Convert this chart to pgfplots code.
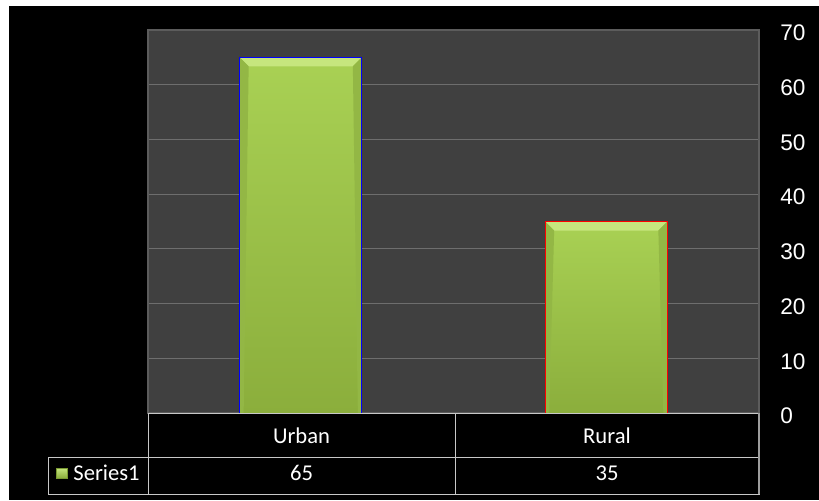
\documentclass[border=0pt]{standalone}
\usepackage{pgfplots}
\pgfplotsset{compat=1.18}
\usepackage{fontspec}
\setmainfont{Carlito}
\newfontfamily\arial{Liberation Sans}
\definecolor{plotbg}{HTML}{404040}
\definecolor{gridc}{HTML}{6E6E6E}
\definecolor{framec}{HTML}{5C5C5C}
\definecolor{tablec}{HTML}{C8C8C8}
\definecolor{barTop}{HTML}{A9D154}
\definecolor{barBot}{HTML}{8BAE3C}
\definecolor{barEdge}{HTML}{7A9A32}
\definecolor{barHi}{HTML}{C6E67E}
\definecolor{barSide}{HTML}{93B745}
\newcommand\bb[1]{\pgfpointanchor{path picture bounding box}{#1}}
\newcommand\bbs[3]{\pgfpointadd{\pgfpointanchor{path picture bounding box}{#1}}{\pgfpoint{#2}{#3}}}
\tikzset{bevel/.style={path picture={%
  \pgfsetfillcolor{barHi}%
  \pgfpathmoveto{\bb{north west}}%
  \pgfpathlineto{\bb{north east}}%
  \pgfpathlineto{\bbs{north east}{-4.5pt}{-4.5pt}}%
  \pgfpathlineto{\bbs{north west}{4.5pt}{-4.5pt}}%
  \pgfpathclose\pgfusepath{fill}%
  \pgfsetfillcolor{barSide}%
  \pgfpathmoveto{\bb{north west}}%
  \pgfpathlineto{\bbs{north west}{4.5pt}{-4.5pt}}%
  \pgfpathlineto{\bbs{south west}{2pt}{0pt}}%
  \pgfpathlineto{\bb{south west}}%
  \pgfpathclose\pgfusepath{fill}%
  \pgfpathmoveto{\bb{north east}}%
  \pgfpathlineto{\bbs{north east}{-4.5pt}{-4.5pt}}%
  \pgfpathlineto{\bbs{south east}{-2pt}{0pt}}%
  \pgfpathlineto{\bb{south east}}%
  \pgfpathclose\pgfusepath{fill}%
}}}
\begin{document}
\begin{tikzpicture}
\useasboundingbox (0pt,0pt) rectangle (409.5pt,250pt);
\fill[white] (0pt,0pt) rectangle (409.5pt,250pt);
\fill[black] (4.5pt,0pt) rectangle (409.5pt,247pt);
\begin{axis}[
  at={(74pt,43.5pt)}, anchor=south west,
  scale only axis, width=305.5pt, height=191.5pt,
  xmin=-0.5, xmax=1.5, ymin=0, ymax=70,
  xtick=\empty,
  ytick={0,10,...,70},
  yticklabel pos=right,
  major tick length=0pt,
  axis background/.style={fill=plotbg},
  axis line style={draw=framec, line width=0.6pt},
  ymajorgrids,
  grid style={draw=gridc, line width=0.5pt},
  yticklabel style={anchor=west, inner sep=0pt, xshift=10.5pt, yshift=-1.5pt,
     font=\arial\fontsize{11.3}{13}\selectfont, text=white},
  /pgf/number format/assume math mode=true,
  ybar, bar width=0.4, bar shift=0pt,
  every axis plot/.append style={ybar, bar shift=0pt, top color=barTop, bottom color=barBot, draw=barEdge, line width=0.4pt, bevel},
]
% Series1: Urban = 65, Rural = 35
\addplot coordinates {(0,65)};
\addplot coordinates {(1,35)};
\end{axis}
% data table below
\fill[black] (74pt,21.5pt) rectangle (379.5pt,43.5pt);
\draw[tablec, line width=0.5pt] (74pt,21.5pt) rectangle (379.5pt,43.3pt);
\draw[tablec, line width=0.5pt] (24pt,3pt) rectangle (379.5pt,21.5pt);
\draw[tablec, line width=0.5pt] (74pt,3pt) -- (74pt,21.5pt);
\draw[tablec, line width=0.5pt] (227.5pt,3pt) -- (227.5pt,43.3pt);
\draw[framec!60!white, line width=0.6pt] (379.5pt,3pt) -- (379.5pt,43.3pt);
\node[anchor=base, text=white, font=\fontsize{11.3}{13}\selectfont, inner sep=0pt] at (150.75pt,28.5pt) {Urban};
\node[anchor=base, text=white, font=\fontsize{11.3}{13}\selectfont, inner sep=0pt] at (303.5pt,28.5pt) {Rural};
\node[anchor=base, text=white, font=\fontsize{11.3}{13}\selectfont, inner sep=0pt] at (150.75pt,10pt) {65};
\node[anchor=base, text=white, font=\fontsize{11.3}{13}\selectfont, inner sep=0pt] at (303.5pt,10pt) {35};
\shade[top color=barHi, bottom color=barBot, draw=barEdge, line width=0.3pt] (28pt,11pt) rectangle (33.5pt,16pt);
\node[anchor=base west, text=white, font=\fontsize{11.3}{13}\selectfont, inner sep=0pt] at (36.5pt,10pt) {Series1};
\end{tikzpicture}
\end{document}
